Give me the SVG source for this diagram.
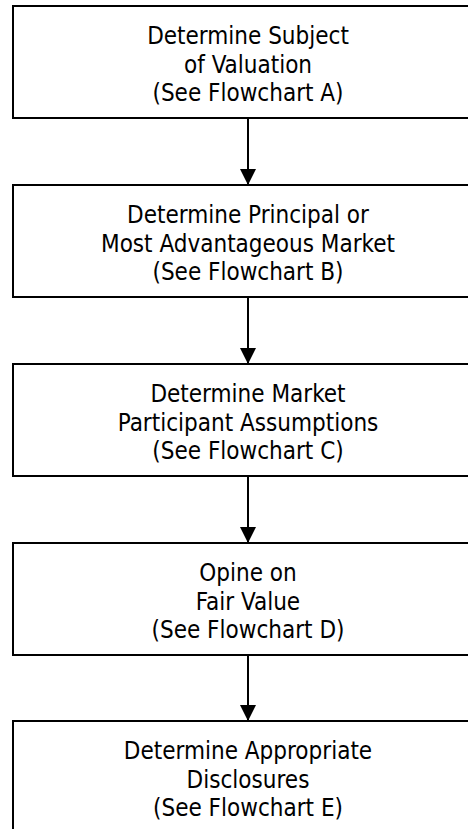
<svg xmlns="http://www.w3.org/2000/svg" width="468" height="829" viewBox="0 0 468 829">
<defs>
<style>
.box{fill:#fff;stroke:#000;stroke-width:2}
.t{font-family:"DejaVu Sans Condensed","DejaVu Sans",sans-serif;font-stretch:condensed;font-size:24px;fill:#000;text-anchor:middle}
.c{stroke:#000;stroke-width:2;fill:none}
</style>
<marker id="ah" viewBox="0 0 16 16" refX="16" refY="8" markerWidth="16" markerHeight="16" markerUnits="userSpaceOnUse" orient="auto">
<path d="M0,0 L16,8 L0,16 Z" fill="#000"/>
</marker>
</defs>
<rect width="468" height="829" fill="#fff"/>
<g id="n1">
<rect class="box" x="13" y="6" width="470" height="112"/>
<text class="t" x="248" y="44">Determine Subject</text>
<text class="t" x="248" y="72.5">of Valuation</text>
<text class="t" x="248" y="101">(See Flowchart A)</text>
</g>
<g id="n2">
<rect class="box" x="13" y="185" width="470" height="112"/>
<text class="t" x="248" y="223">Determine Principal or</text>
<text class="t" x="248" y="251.5">Most Advantageous Market</text>
<text class="t" x="248" y="280">(See Flowchart B)</text>
</g>
<g id="n3">
<rect class="box" x="13" y="364" width="470" height="112"/>
<text class="t" x="248" y="402">Determine Market</text>
<text class="t" x="248" y="430.5">Participant Assumptions</text>
<text class="t" x="248" y="459">(See Flowchart C)</text>
</g>
<g id="n4">
<rect class="box" x="13" y="543" width="470" height="112"/>
<text class="t" x="248" y="581">Opine on</text>
<text class="t" x="248" y="609.5">Fair Value</text>
<text class="t" x="248" y="638">(See Flowchart D)</text>
</g>
<g id="n5">
<rect class="box" x="13" y="721" width="470" height="112"/>
<text class="t" x="248" y="759">Determine Appropriate</text>
<text class="t" x="248" y="787.5">Disclosures</text>
<text class="t" x="248" y="816">(See Flowchart E)</text>
</g>
<g id="connectors">
<line class="c" x1="248" y1="118" x2="248" y2="185" marker-end="url(#ah)"/>
<line class="c" x1="248" y1="297" x2="248" y2="364" marker-end="url(#ah)"/>
<line class="c" x1="248" y1="476" x2="248" y2="543" marker-end="url(#ah)"/>
<line class="c" x1="248" y1="655" x2="248" y2="721" marker-end="url(#ah)"/>
</g>
</svg>
